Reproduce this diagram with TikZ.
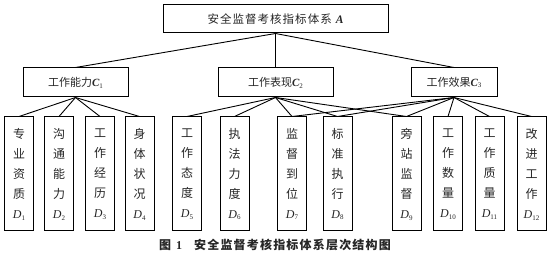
\documentclass[tikz,border=0pt]{standalone}
\usepackage{fontspec}
\setmainfont{Liberation Serif}
\newfontfamily\cjk{Noto Sans CJK SC}
\newfontfamily\cjkA{Noto Sans CJK SC}[LetterSpace=9]
\newfontfamily\cjkcap{Noto Sans CJK SC}[LetterSpace=10]
\begin{document}
\begin{tikzpicture}[x=1pt,y=-1pt,
  every node/.style={inner sep=0pt, text=black!85},
  topbox/.style={draw=black, line width=1pt, fill=white, minimum width=225pt, minimum height=28pt, font=\fontsize{11.5}{14}\selectfont},
  cbox/.style={draw=black, line width=1pt, fill=white, minimum height=29pt, font=\fontsize{11}{14}\selectfont},
  dbox/.style={draw=black, line width=1pt, fill=white, minimum width=29pt, minimum height=114pt, align=center, font=\fontsize{12}{20}\selectfont},
  link/.style={draw=black, line width=0.9pt},
  captext/.style={font=\fontsize{12}{14}\selectfont}
]
\useasboundingbox (0,0) rectangle (550,259);
\newcommand{\Csub}[2]{{\bfseries\itshape #1}\raisebox{-0.35ex}{\fontsize{7}{8}\selectfont #2}}
\newcommand{\Dsub}[1]{{\itshape D}\raisebox{-0.35ex}{\fontsize{7}{8}\selectfont #1}}

\node[topbox] (A) at (275.5,19) {{\cjkA 安全监督考核指标体系}\hspace{4pt}{\bfseries\itshape A}};

\node[cbox, minimum width=105pt] (C1) at (75.5,82.5) {{\cjk 工作能力}\Csub{C}{1}};
\node[cbox, minimum width=115pt] (C2) at (275.5,82.5) {{\cjk 工作表现}\Csub{C}{2}};
\node[cbox, minimum width=86pt] (C3) at (454,82.5) {{\cjk 工作效果}\Csub{C}{3}};

\node[dbox] (D1) at (19,174) {\cjk 专\\\cjk 业\\\cjk 资\\\cjk 质\\\Dsub{1}};
\node[dbox] (D2) at (59,174) {\cjk 沟\\\cjk 通\\\cjk 能\\\cjk 力\\\Dsub{2}};
\node[dbox] (D3) at (100,174) {\cjk 工\\\cjk 作\\\cjk 经\\\cjk 历\\\Dsub{3}};
\node[dbox] (D4) at (139.5,174) {\cjk 身\\\cjk 体\\\cjk 状\\\cjk 况\\\Dsub{4}};
\node[dbox] (D5) at (187,174) {\cjk 工\\\cjk 作\\\cjk 态\\\cjk 度\\\Dsub{5}};
\node[dbox] (D6) at (234.5,174) {\cjk 执\\\cjk 法\\\cjk 力\\\cjk 度\\\Dsub{6}};
\node[dbox] (D7) at (292,174) {\cjk 监\\\cjk 督\\\cjk 到\\\cjk 位\\\Dsub{7}};
\node[dbox] (D8) at (337.5,174) {\cjk 标\\\cjk 准\\\cjk 执\\\cjk 行\\\Dsub{8}};
\node[dbox] (D9) at (406.5,174) {\cjk 旁\\\cjk 站\\\cjk 监\\\cjk 督\\\Dsub{9}};
\node[dbox] (D10) at (448,174) {\cjk 工\\\cjk 作\\\cjk 数\\\cjk 量\\\Dsub{10}};
\node[dbox] (D11) at (489.5,174) {\cjk 工\\\cjk 作\\\cjk 质\\\cjk 量\\\Dsub{11}};
\node[dbox] (D12) at (531.5,174) {\cjk 改\\\cjk 进\\\cjk 工\\\cjk 作\\\Dsub{12}};

\foreach \c in {C1,C2,C3} \draw[link] (A.south) -- (\c.north);
\foreach \d in {D1,D2,D3,D4} \draw[link] (C1.south) -- (\d.north);
\foreach \d in {D5,D6,D7,D8,D9} \draw[link] (C2.south) -- (\d.north);
\foreach \d in {D7,D8,D9,D10,D11,D12} \draw[link] (C3.south) -- (\d.north);

\node[captext] (caption) at (275,245) {{\cjk\bfseries 图}\hspace{5pt}{\bfseries 1}\hspace{12pt}{\cjkcap\bfseries 安全监督考核指标体系层次结构图}};
\end{tikzpicture}
\end{document}
